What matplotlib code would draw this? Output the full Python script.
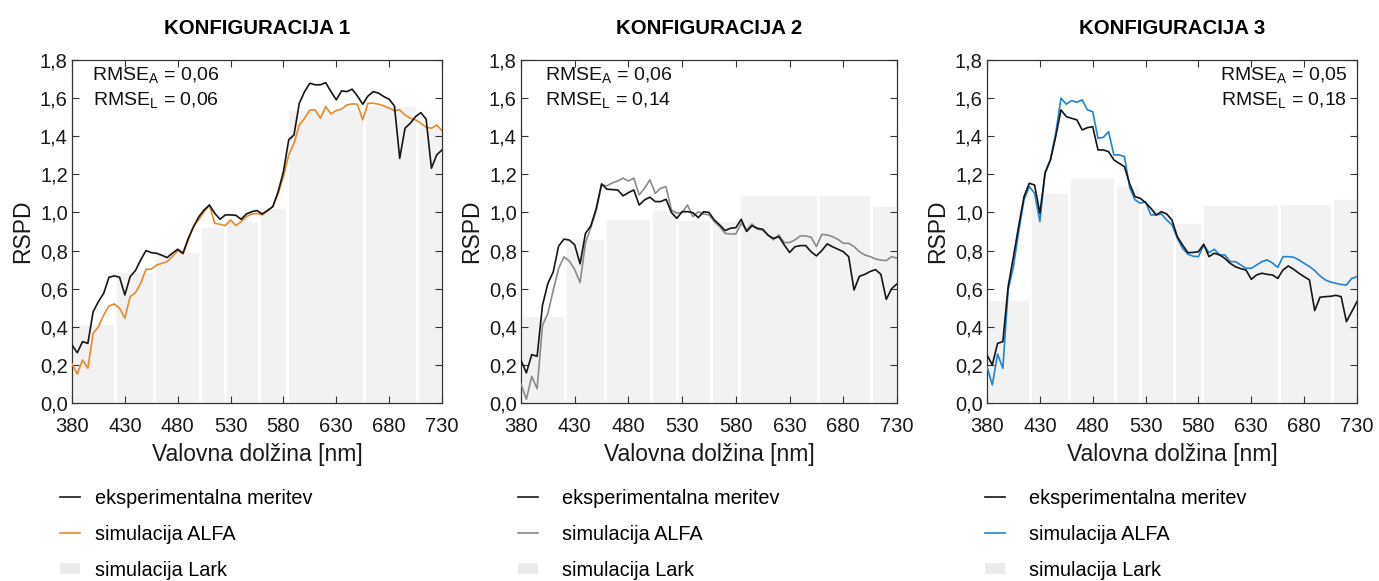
import numpy as np
import matplotlib
matplotlib.use("Agg")
import matplotlib.pyplot as plt
from matplotlib.lines import Line2D
from matplotlib.patches import Patch
from matplotlib.ticker import FuncFormatter, MultipleLocator

plt.rcParams['font.family'] = ['Liberation Sans', 'DejaVu Sans']
plt.rcParams['mathtext.fontset'] = 'custom'
plt.rcParams['mathtext.rm'] = 'Liberation Sans'
plt.rcParams['mathtext.it'] = 'Liberation Sans:italic'
plt.rcParams['mathtext.bf'] = 'Liberation Sans:bold'

# wavelength grid of the spectra (5 nm step)
wl = np.arange(380, 731, 5)
x_ticks = [380, 430, 480, 530, 580, 630, 680, 730]

# Lark spectral bands (edges, nm)
lark_edges = [380, 421, 458, 501, 525, 557, 583, 656, 706, 730]

# KONFIGURACIJA 1
exp_1 = [0.304, 0.264, 0.322, 0.313, 0.479, 0.532, 0.576, 0.660, 0.667, 0.660,
         0.567, 0.663, 0.695, 0.751, 0.800, 0.789, 0.786, 0.775, 0.763, 0.786,
         0.807, 0.786, 0.864, 0.925, 0.978, 1.013, 1.039, 0.996, 0.964, 0.987,
         0.987, 0.985, 0.964, 0.992, 1.004, 1.010, 0.992, 1.010, 1.031, 1.109,
         1.214, 1.381, 1.407, 1.573, 1.634, 1.678, 1.670, 1.670, 1.681, 1.634,
         1.591, 1.638, 1.634, 1.647, 1.611, 1.568, 1.611, 1.634, 1.626, 1.608,
         1.594, 1.559, 1.284, 1.442, 1.468, 1.503, 1.524, 1.489, 1.232, 1.302,
         1.328]
alfa_1 = [0.205, 0.152, 0.226, 0.182, 0.366, 0.400, 0.462, 0.509, 0.520, 0.497,
          0.445, 0.558, 0.579, 0.628, 0.702, 0.702, 0.724, 0.733, 0.742, 0.768,
          0.800, 0.782, 0.856, 0.929, 0.964, 1.004, 1.039, 0.943, 0.938, 0.931,
          0.961, 0.931, 0.952, 0.978, 0.992, 0.995, 0.987, 1.010, 1.031, 1.100,
          1.188, 1.302, 1.363, 1.459, 1.494, 1.538, 1.538, 1.494, 1.556, 1.517,
          1.535, 1.542, 1.564, 1.570, 1.568, 1.486, 1.573, 1.573, 1.568, 1.559,
          1.547, 1.535, 1.538, 1.512, 1.494, 1.486, 1.468, 1.447, 1.442, 1.459,
          1.429]
lark_1 = [0.418, 0.695, 0.800, 0.930, 0.962, 1.030, 1.545, 1.565, 1.455]

# KONFIGURACIJA 2
exp_2 = [0.224, 0.158, 0.254, 0.245, 0.513, 0.627, 0.688, 0.823, 0.860, 0.855,
         0.830, 0.730, 0.890, 0.930, 1.020, 1.150, 1.122, 1.120, 1.118, 1.087,
         1.104, 1.118, 1.039, 1.066, 1.080, 1.057, 1.057, 1.069, 1.000, 0.969,
         1.004, 1.004, 0.999, 0.973, 1.004, 1.000, 0.960, 0.934, 0.905, 0.917,
         0.920, 0.964, 0.900, 0.930, 0.917, 0.912, 0.880, 0.864, 0.873, 0.830,
         0.790, 0.820, 0.826, 0.826, 0.794, 0.772, 0.800, 0.835, 0.820, 0.807,
         0.794, 0.768, 0.593, 0.665, 0.675, 0.690, 0.700, 0.675, 0.544, 0.600,
         0.625]
alfa_2 = [0.100, 0.020, 0.140, 0.075, 0.408, 0.469, 0.592, 0.706, 0.767, 0.745,
          0.700, 0.632, 0.840, 0.920, 1.010, 1.144, 1.140, 1.155, 1.165, 1.180,
          1.165, 1.180, 1.092, 1.127, 1.171, 1.100, 1.127, 1.135, 1.013, 0.996,
          1.000, 1.039, 0.978, 1.004, 0.992, 0.987, 0.952, 0.926, 0.890, 0.887,
          0.887, 0.943, 0.908, 0.940, 0.912, 0.908, 0.882, 0.856, 0.882, 0.842,
          0.842, 0.856, 0.877, 0.877, 0.870, 0.821, 0.885, 0.882, 0.873, 0.859,
          0.838, 0.838, 0.821, 0.794, 0.777, 0.768, 0.756, 0.750, 0.747, 0.768,
          0.760]
lark_2 = [0.462, 0.864, 0.969, 1.017, 0.965, 0.960, 1.095, 1.095, 1.040]

# KONFIGURACIJA 3
exp_3 = [0.252, 0.200, 0.313, 0.322, 0.611, 0.768, 0.930, 1.083, 1.153, 1.144,
         0.996, 1.206, 1.276, 1.398, 1.538, 1.503, 1.494, 1.486, 1.433, 1.445,
         1.450, 1.328, 1.328, 1.319, 1.276, 1.258, 1.240, 1.150, 1.083, 1.074,
         1.051, 1.022, 0.987, 1.004, 0.992, 0.960, 0.873, 0.829, 0.789, 0.790,
         0.794, 0.833, 0.768, 0.786, 0.777, 0.759, 0.733, 0.715, 0.705, 0.698,
         0.649, 0.672, 0.681, 0.675, 0.672, 0.654, 0.698, 0.719, 0.702, 0.681,
         0.663, 0.646, 0.485, 0.555, 0.558, 0.560, 0.565, 0.558, 0.427, 0.479,
         0.532]
alfa_3 = [0.190, 0.095, 0.257, 0.182, 0.593, 0.716, 0.900, 1.066, 1.136, 1.101,
          0.952, 1.214, 1.276, 1.416, 1.600, 1.568, 1.587, 1.578, 1.591, 1.538,
          1.529, 1.389, 1.394, 1.424, 1.302, 1.302, 1.293, 1.130, 1.066, 1.048,
          1.057, 0.987, 0.987, 0.992, 0.960, 0.935, 0.865, 0.812, 0.781, 0.770,
          0.768, 0.829, 0.789, 0.807, 0.777, 0.777, 0.742, 0.742, 0.725, 0.707,
          0.707, 0.724, 0.742, 0.751, 0.735, 0.712, 0.768, 0.768, 0.765, 0.751,
          0.733, 0.716, 0.695, 0.667, 0.646, 0.635, 0.628, 0.622, 0.619, 0.654,
          0.663]
lark_3 = [0.546, 1.109, 1.185, 1.144, 1.036, 0.948, 1.045, 1.052, 1.074]

titles = ["KONFIGURACIJA 1", "KONFIGURACIJA 2", "KONFIGURACIJA 3"]
rmse_a = ["0,06", "0,06", "0,05"]
rmse_l = ["0,06", "0,14", "0,18"]
alfa_colors = ["#e8892a", "#8a8a8a", "#2183d0"]
exp_data = [exp_1, exp_2, exp_3]
alfa_data = [alfa_1, alfa_2, alfa_3]
lark_data = [lark_1, lark_2, lark_3]

W, H = 1379, 581
fig = plt.figure(figsize=(W / 100, H / 100), dpi=100)

# axes boxes in pixels: left, right
boxes = [(72, 442), (521, 897), (987, 1357)]
top_px, bot_px = 60, 403
legend_x = [-0.032, -0.008, -0.005]
legend_pad = [0.75, 1.2, 1.2]
text_pos = [(0.054, "left", "right"), (0.064, "left", "left"), (0.973, "right", "right")]

fmt = FuncFormatter(lambda v, p: f"{v:.1f}".replace(".", ","))

for i in range(3):
    l, r = boxes[i]
    ax = fig.add_axes([l / W, (H - bot_px) / H, (r - l) / W, (bot_px - top_px) / H])

    ax.bar(lark_edges[:-1], lark_data[i], width=np.diff(lark_edges), align="edge",
           color="#f2f2f2", edgecolor="white", linewidth=1.9, zorder=1)
    ax.plot(wl, alfa_data[i], color=alfa_colors[i], lw=1.2, zorder=3)
    ax.plot(wl, exp_data[i], color="#151515", lw=1.2, zorder=4)

    ax.set_xlim(380, 730)
    ax.set_ylim(0, 1.8)
    ax.set_xticks(x_ticks)
    ax.yaxis.set_major_locator(MultipleLocator(0.2))
    ax.yaxis.set_major_formatter(fmt)
    ax.tick_params(direction="in", top=True, right=True, length=5, width=0.8,
                   labelsize=14.5, colors="#333333", labelcolor="#1a1a1a")
    ax.tick_params(axis="x", pad=10)
    ax.tick_params(axis="y", pad=3)
    for s in ax.spines.values():
        s.set_color("#333333")
        s.set_linewidth(0.9)

    ax.set_xlabel("Valovna dolžina [nm]", fontsize=16.5, labelpad=5, color="#1a1a1a")
    ax.set_ylabel("RSPD", fontsize=16.5, labelpad=4, color="#1a1a1a")
    ax.set_title(titles[i], fontsize=14.7, fontweight="bold", pad=19)

    tx, ha, ma = text_pos[i]
    ax.text(tx, 0.985, "RMSE$_\\mathrm{A}$ = " + rmse_a[i] + "\nRMSE$_\\mathrm{L}$ = " + rmse_l[i],
            transform=ax.transAxes, ha=ha, va="top", multialignment=ma,
            fontsize=14, linespacing=1.3, color="#111111")

    handles = [Line2D([], [], color="#151515", lw=1.2),
               Line2D([], [], color=alfa_colors[i], lw=1.2),
               Patch(facecolor="#ebebeb", edgecolor="none")]
    labels = ["eksperimentalna meritev", "simulacija ALFA", "simulacija Lark"]
    ax.legend(handles, labels, loc="upper left", bbox_to_anchor=(legend_x[i], -0.25),
              frameon=False, fontsize=14.3, handlelength=1.0, handleheight=0.5,
              handletextpad=legend_pad[i], labelspacing=0.85, borderpad=0, borderaxespad=0)

fig.savefig("out.png", dpi=100)
